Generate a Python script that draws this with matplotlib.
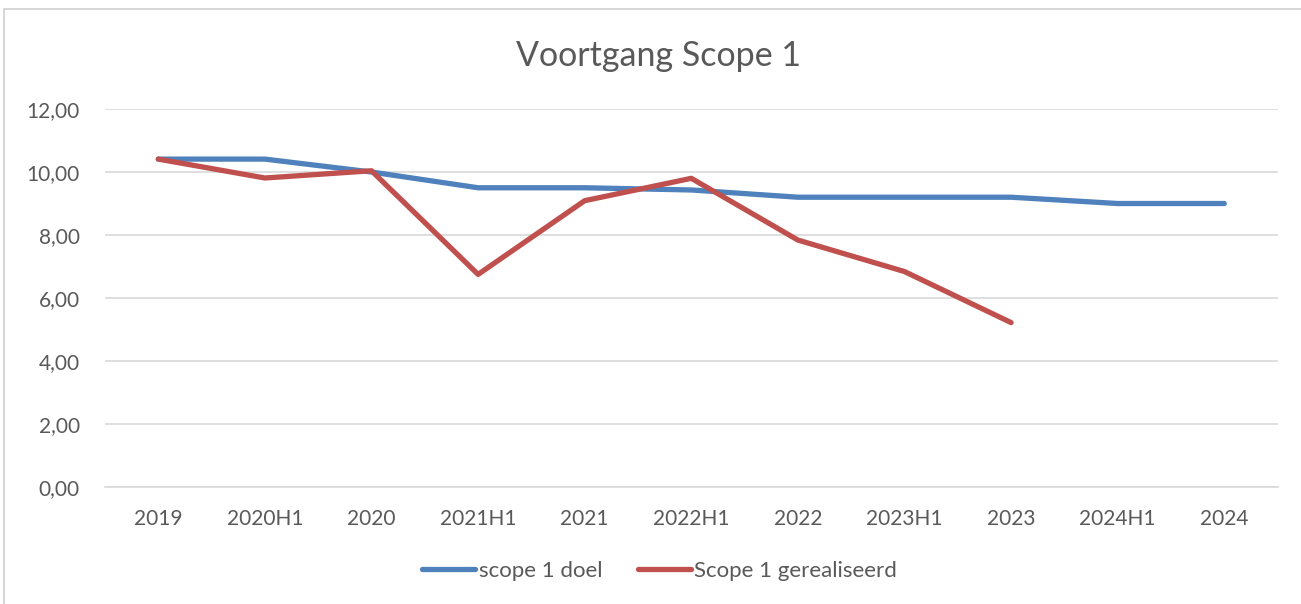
import matplotlib.pyplot as plt
from matplotlib.patches import Rectangle

# ─── data ─────────────────────────────────────────────
categories = ["2019", "2020H1", "2020", "2021H1", "2021", "2022H1",
              "2022", "2023H1", "2023", "2024H1", "2024"]
doel = [10.41, 10.41, 10.0, 9.50, 9.50, 9.43, 9.20, 9.20, 9.20, 9.00, 9.00]
gerealiseerd = [10.41, 9.81, 10.04, 6.75, 9.09, 9.80, 7.84, 6.84, 5.22]
y_ticks = [0, 2, 4, 6, 8, 10, 12]

BLUE = "#4f81bd"
RED = "#c0504d"
TXT = "#595959"
GRID = "#d9d9d9"

plt.rcParams["font.family"] = ["Lato", "DejaVu Sans"]

fig = plt.figure(figsize=(13.01, 6.04), dpi=100)
ax = fig.add_axes([0.0807, 0.1937, 0.9013, 0.6258])

# chart frame
fig.patches.append(Rectangle((4 / 1301, -0.01), 1.02, 1 - 9 / 604 + 0.01,
                             transform=fig.transFigure, fill=False,
                             edgecolor="#d0d0d0", linewidth=1.2))

x = list(range(len(categories)))
ax.plot(x, doel, color=BLUE, lw=3.8, solid_capstyle="round",
        solid_joinstyle="round", label="scope 1 doel", zorder=3)
ax.plot(x[:len(gerealiseerd)], gerealiseerd, color=RED, lw=3.8,
        solid_capstyle="round", solid_joinstyle="round",
        label="Scope 1 gerealiseerd", zorder=4)

ax.set_xlim(-0.5, len(categories) - 0.5)
ax.set_ylim(0, 12)
ax.set_yticks(y_ticks)
ax.set_yticklabels([f"{v:.2f}".replace(".", ",") for v in y_ticks])
ax.set_xticks(x)
ax.set_xticklabels(categories)
ax.tick_params(axis="both", length=0, labelsize=15, colors=TXT)
ax.tick_params(axis="x", pad=16)
ax.tick_params(axis="y", pad=18)
ax.grid(axis="y", color=GRID, lw=1.2)
ax.set_axisbelow(True)
for side in ["top", "right", "left"]:
    ax.spines[side].set_visible(False)
ax.spines["bottom"].set_color(GRID)
ax.spines["bottom"].set_linewidth(1.2)

fig.text(0.506, 0.907, "Voortgang Scope 1", ha="center", va="center",
         fontsize=24.5, color=TXT)

fig.legend(loc="center", bbox_to_anchor=(0.507, 0.055), ncol=2, frameon=False,
           fontsize=16, labelcolor=TXT, handlelength=2.4, handletextpad=0.15,
           columnspacing=1.6)

fig.savefig("out.png", dpi=100)
